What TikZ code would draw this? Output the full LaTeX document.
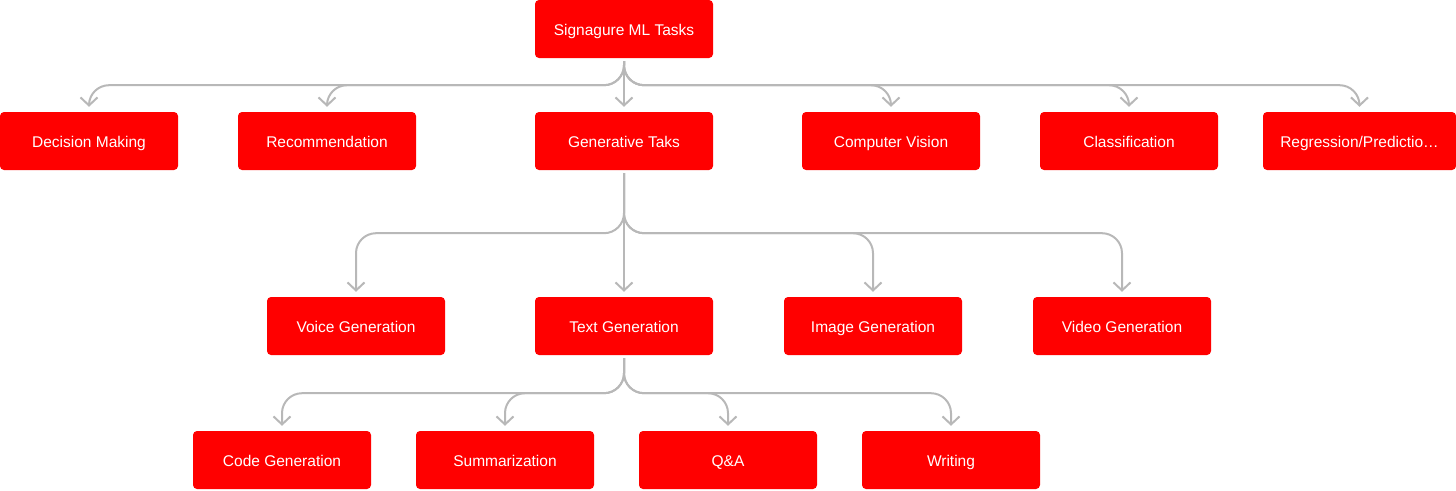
\documentclass[tikz,border=0pt]{standalone}
\usepackage{fontspec}
\setmainfont{Liberation Sans}
\usetikzlibrary{arrows.meta}
\definecolor{boxred}{HTML}{FF0000}
\definecolor{conngray}{HTML}{B8B8B8}
\tikzset{
  box/.style={fill=boxred, text=white, rounded corners=4pt, minimum width=178pt, minimum height=58pt, inner sep=0pt, text height=12pt, text depth=0pt, font=\fontsize{15.5pt}{18pt}\selectfont},
  conn/.style={draw=conngray, line width=2pt, rounded corners=20pt, shorten <=3pt, shorten >=5pt, -{Straight Barb[length=8pt,width=17pt,line width=2pt]}}
}
\begin{document}
\begin{tikzpicture}[x=1pt,y=-1pt]
\useasboundingbox (0,0) rectangle (1456,490);
\node[box] (top) at (624,29) {Signagure ML Tasks};
\node[box] (dm) at (89,141) {Decision Making};
\node[box] (rec) at (327,141) {Recommendation};
\node[box] (gen) at (624,141) {Generative Taks};
\node[box] (cv) at (891,141) {Computer Vision};
\node[box] (cls) at (1129,141) {Classification};
\node[box, minimum width=193pt] (reg) at (1359.5,141) {Regression/Predictio…};
\node[box] (voice) at (356,326) {Voice Generation};
\node[box] (txt) at (624,326) {Text Generation};
\node[box] (img) at (873,326) {Image Generation};
\node[box] (vid) at (1122,326) {Video Generation};
\node[box] (code) at (282,460) {Code Generation};
\node[box] (sum) at (505,460) {Summarization};
\node[box] (qa) at (728,460) {Q\&A};
\node[box] (wr) at (951,460) {Writing};
% level 1
\foreach \t in {dm,rec,cv,cls,reg}{
  \draw[conn] (top.south) -- ++(0,27) -| (\t.north);
}
\draw[conn] (top.south) -- (gen.north);
% level 2
\foreach \t in {voice,img,vid}{
  \draw[conn] (gen.south) -- ++(0,63) -| (\t.north);
}
\draw[conn] (gen.south) -- (txt.north);
% level 3
\foreach \t in {code,sum,qa,wr}{
  \draw[conn] (txt.south) -- ++(0,38) -| (\t.north);
}
\end{tikzpicture}
\end{document}
